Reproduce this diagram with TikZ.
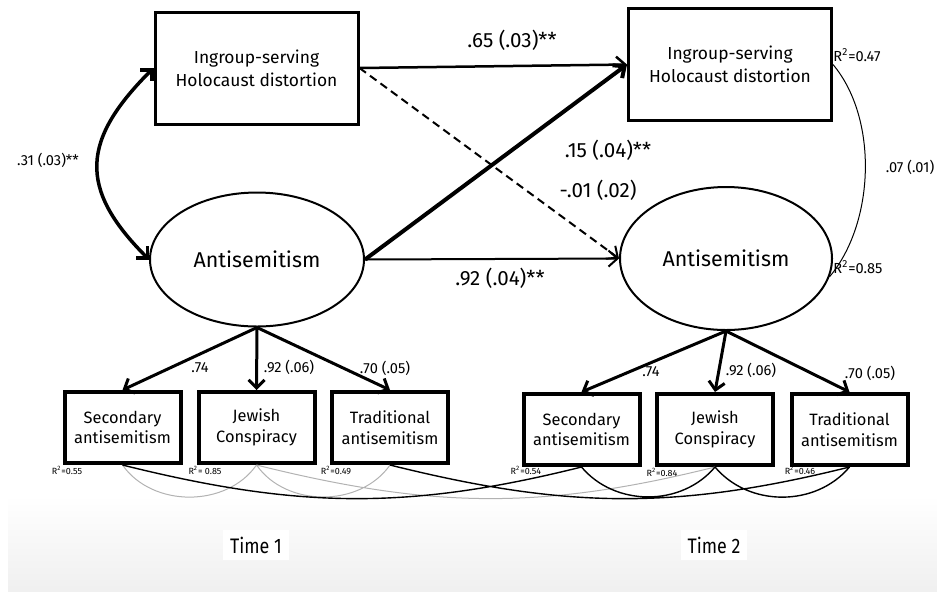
\documentclass[tikz,border=0pt]{standalone}
\usepackage{fontspec}
\setmainfont{Fira Sans}
\usetikzlibrary{arrows.meta,shapes.geometric}

\begin{document}
\begin{tikzpicture}[x=0.5pt,y=-0.5pt,
	obs/.style={draw,line width=1.5pt,minimum width=101.5pt,minimum height=56pt,align=center,font=\fontsize{8.7}{11.5}\selectfont},
	lat/.style={draw,ellipse,line width=1pt,minimum width=107pt,minimum height=67pt,font=\fontsize{10.7}{13}\selectfont},
	ind/.style={draw,line width=2pt,minimum width=58pt,minimum height=35.5pt,align=center,font=\fontsize{8.2}{10.2}\selectfont},
	reg/.style={line width=1.25pt,-{Straight Barb[length=4.5pt,width=8pt]}},
	ldg/.style={line width=1.5pt,-{Straight Barb[length=4pt,width=8pt]}},
	cov/.style={line width=1.75pt,{Straight Barb[length=4pt,width=8pt]}-{Straight Barb[length=4pt,width=8pt]}},
	big/.style={font=\fontsize{10.3}{12}\selectfont},
	mid/.style={font=\fontsize{7.3}{9}\selectfont},
	rsq/.style={inner sep=0pt,font=\fontsize{4.5}{5}\selectfont},
	res/.style={line width=.7pt},
	resg/.style={line width=.5pt,gray!60}]

	\useasboundingbox (0,0) rectangle (937,591);
	\shade[top color=white,bottom color=black!6] (8,495) rectangle (937,591);

	\node[obs] (ing1) at (256.5,68) {Ingroup-serving\\Holocaust distortion};
	\node[obs] (ing2) at (730,64.5) {Ingroup-serving\\Holocaust distortion};
	\node[lat] (as1) at (257,259.5) {Antisemitism};
	\node[lat,minimum width=106pt,minimum height=71.5pt] (as2) at (726,258.5) {Antisemitism};

	\node[ind] (sec1) at (122.5,427.5) {Secondary\\antisemitism};
	\node[ind] (jew1) at (256.5,427.5) {Jewish\\Conspiracy};
	\node[ind] (tra1) at (390,427.5) {Traditional\\antisemitism};
	\node[ind] (sec2) at (581.5,429.5) {Secondary\\antisemitism};
	\node[ind] (jew2) at (715,429.5) {Jewish\\Conspiracy};
	\node[ind] (tra2) at (849.5,429.5) {Traditional\\antisemitism};

	\draw[cov] (ing1.west) to[out=225,in=135,looseness=1.35] (as1.west);
	\draw[line width=.5pt] (ing2.east) to[out=-50,in=50,looseness=.85] (as2.-10);

	\draw[reg] (ing1.east) -- (ing2.west);
	\draw[reg,line width=2pt] (as1.east) -- (ing2.west);
	\draw[reg,line width=1pt] (as1.east) -- (as2.west);
	\draw[reg,line width=1pt,dash pattern=on 4pt off 2.5pt] (ing1.east) -- (as2.west);

	\foreach \i in {sec1,jew1,tra1}
		\draw[ldg] (as1.south) -- (\i.north);
	\foreach \i in {sec2,jew2,tra2}
		\draw[ldg] (as2.south) -- (\i.north);

	\draw[resg]
	(sec1.south) to[out=-55,in=-125] (jew1.south)
	(jew1.south) to[out=-55,in=-125] (tra1.south)
	(jew1.south) to[out=-14,in=-166] (jew2.south);
	\draw[res]
	(sec1.south) to[out=-14,in=-166] (sec2.south)
	(tra1.south) to[out=-14,in=-166] (tra2.south)
	(sec2.south) to[out=-50,in=-130] (jew2.south)
	(jew2.south) to[out=-50,in=-130] (tra2.south);

	\node[big] (b65) at (512,40) {.65 (.03)**};
	\node[big] (b15) at (608,150) {.15 (.04)**};
	\node[big] (b01) at (598,190) {-.01 (.02)};
	\node[big] (b92) at (500,278) {.92 (.04)**};
	\node[mid] (c31) at (48,160) {.31 (.03)**};
	\node[mid] (c07) at (910,167) {.07 (.01)};
	\node[mid] (r47) at (857,55) {R\textsuperscript{2}=0.47};
	\node[mid] (r85) at (858,267) {R\textsuperscript{2}=0.85};

	\node[mid] (l1a) at (200,368) {.74};
	\node[mid] (l1b) at (289,367) {.92 (.06)};
	\node[mid] (l1c) at (385,368) {.70 (.05)};
	\node[mid] (l2a) at (651,372) {.74};
	\node[mid] (l2b) at (751,370) {.92 (.06)};
	\node[mid] (l2c) at (870,373) {.70 (.05)};

	\node[rsq] (q1a) at (67,470) {R\textsuperscript{2}=0.55};
	\node[rsq] (q1b) at (205,470) {R\textsuperscript{2}= 0.85};
	\node[rsq] (q1c) at (336,470) {R\textsuperscript{2}=0.49};
	\node[rsq] (q2a) at (526,470) {R\textsuperscript{2}=0.54};
	\node[rsq] (q2b) at (662,472) {R\textsuperscript{2}=0.84};
	\node[rsq] (q2c) at (800,470) {R\textsuperscript{2}=0.46};

	\node[fill=white,font=\fontsize{10.5}{12}\selectfont] (t1) at (256,545) {\scalebox{.85}[1]{Time 1}};
	\node[fill=white,font=\fontsize{10.5}{12}\selectfont] (t2) at (714,545) {\scalebox{.85}[1]{Time 2}};
\end{tikzpicture}
\end{document}
